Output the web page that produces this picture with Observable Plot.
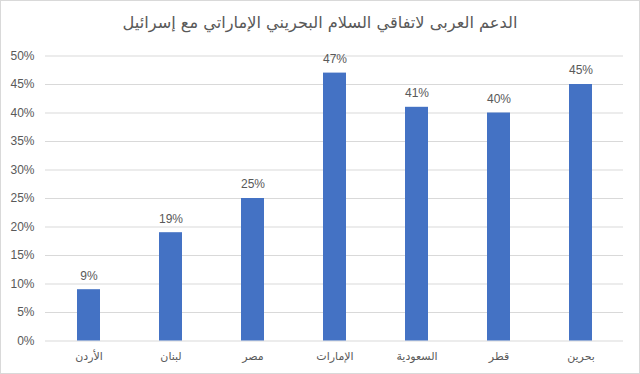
<!DOCTYPE html>
<html>
<head>
<meta charset="utf-8">
<script src="https://cdn.jsdelivr.net/npm/d3@7"></script>
<script src="https://cdn.jsdelivr.net/npm/@observablehq/plot@0.6"></script>
<style>
  html, body { margin: 0; padding: 0; background: #fff; }
  #frame { position: relative; width: 640px; height: 374px; box-sizing: border-box; border: 1px solid #d9d9d9; background: #fff; overflow: hidden; }
  #title { height: 43px; line-height: 44px; text-align: center; font-family: "DejaVu Sans", sans-serif; font-size: 16.2px; color: #595959; direction: rtl; }
  #chart svg { display: block; }
</style>
</head>
<body>
<div id="frame">
  <div id="title">الدعم العربى لاتفاقي السلام البحريني الإماراتي مع إسرائيل</div>
  <div id="chart"></div>
</div>
<script>
const countries = ["الأردن", "لبنان", "مصر", "الإمارات", "السعودية", "قطر", "بحرين"];
const support = [9, 19, 25, 47, 41, 40, 45];
const yTicks = [0, 5, 10, 15, 20, 25, 30, 35, 40, 45, 50];

const data = countries.map((c, i) => ({country: c, value: support[i]}));

const chart = Plot.plot({
  width: 638,
  height: 329,
  marginTop: 11.5,
  marginBottom: 32.5,
  marginLeft: 44,
  marginRight: 16,
  style: {fontFamily: "'Liberation Sans', 'DejaVu Sans', sans-serif", fontSize: "12px", color: "#595959", background: "white"},
  x: {domain: countries, paddingInner: 0.72, paddingOuter: 0.36, label: null},
  y: {domain: [0, 50], label: null},
  marks: [
    Plot.ruleY(yTicks, {stroke: "#d9d9d9", strokeWidth: 1}),
    Plot.barY(data, {x: "country", y: "value", fill: "#4472C4"}),
    Plot.text(data, {x: "country", y: "value", text: d => d.value + "%", dy: -14, fill: "#595959", fontSize: 12}),
    Plot.axisY({ticks: yTicks, tickSize: 0, tickPadding: 11, tickFormat: d => d + "%", label: null, fill: "#595959"}),
    Plot.axisX({tickSize: 0, tickPadding: 11, label: null, fill: "#595959", fontFamily: "'DejaVu Sans', sans-serif", fontSize: 11})
  ]
});
document.getElementById("chart").appendChild(chart);
</script>
</body>
</html>
